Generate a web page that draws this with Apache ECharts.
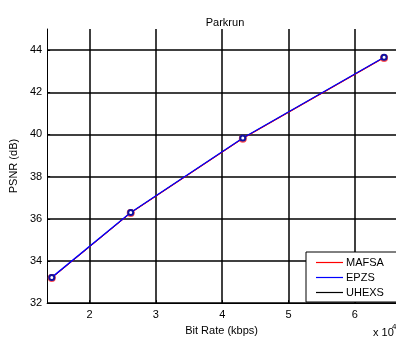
<!DOCTYPE html>
<html><head><meta charset="utf-8">
<script src="https://cdn.jsdelivr.net/npm/echarts@6/dist/echarts.min.js"></script>
<style>html,body{margin:0;padding:0;background:#fff}#c{width:396px;height:341px}</style>
</head><body><div id="c"></div>
<script>
const bitRate = [14300, 26200, 43100, 64400];
const mafsa = [33.19, 36.27, 39.80, 43.63];
const epzs = [33.22, 36.30, 39.83, 43.66];
const uhexs = [33.21, 36.29, 39.82, 43.65];
const xTicks = [20000, 30000, 40000, 50000, 60000];
const yTicks = [32, 34, 36, 38, 40, 42, 44];

const font = 'Liberation Sans, Arial, sans-serif';
const chart = echarts.init(document.getElementById('c'));
function pts(ys){ return bitRate.map((x,i)=>[x, ys[i]]); }
const lineIcon = 'path://M0,4.4 L27,4.4 L27,5.6 L0,5.6 Z';
chart.setOption({
  animation: false,
  backgroundColor: '#fff',
  title: { text: 'Parkrun', left: 220, top: 12, textAlign: 'center',
    textStyle: { fontFamily: font, fontSize: 11, fontWeight: 'normal', color: '#000' } },
  grid: { left: 46, top: 29, right: -1, bottom: 36 },
  legend: {
    orient: 'vertical', left: 306, top: 252, width: 100,
    padding: [5, 20, 4, 10], itemGap: 4,
    borderColor: '#000', borderWidth: 1, backgroundColor: '#fff',
    itemWidth: 27, itemHeight: 10,
    textStyle: { fontFamily: font, fontSize: 11, color: '#000', padding: [0,0,0,-2] },
    data: [
      { name: 'MAFSA', icon: lineIcon, itemStyle: { color: '#ff0000', borderWidth: 0 } },
      { name: 'EPZS', icon: lineIcon, itemStyle: { color: '#0000ff', borderWidth: 0 } },
      { name: 'UHEXS', icon: lineIcon, itemStyle: { color: '#000000', borderWidth: 0 } }
    ]
  },
  xAxis: {
    type: 'value', min: 13600, max: 66200,
    axisLine: { show: true, lineStyle: { color: '#000', width: 1 } },
    axisTick: { show: true, inside: true, length: 3, customValues: xTicks, lineStyle: { color: '#000' } },
    axisLabel: { customValues: xTicks, formatter: v => String(v / 10000), color: '#000',
      fontFamily: font, fontSize: 11, margin: 6 },
    splitLine: { show: true, lineStyle: { color: '#000', width: 1.5 } },
    name: 'Bit Rate (kbps)', nameLocation: 'middle', nameGap: 20,
    nameTextStyle: { fontFamily: font, fontSize: 11, color: '#000' }
  },
  yAxis: {
    type: 'value', min: 32, max: 45,
    axisLine: { show: true, lineStyle: { color: '#000', width: 1 } },
    axisTick: { show: true, inside: true, length: 3, customValues: yTicks, lineStyle: { color: '#000' } },
    axisLabel: { customValues: yTicks, color: '#000', fontFamily: font, fontSize: 11, margin: 5 },
    splitLine: { show: true, lineStyle: { color: '#000', width: 1.5 } },
    name: 'PSNR (dB)', nameLocation: 'middle', nameGap: 27, nameRotate: 90,
    nameTextStyle: { fontFamily: font, fontSize: 11, color: '#000' }
  },
  graphic: [
    { type: 'text', left: 373, top: 327, style: { text: 'x 10', fontFamily: font, fontSize: 11, fill: '#000' } },
    { type: 'text', left: 392, top: 323, style: { text: '4', fontFamily: font, fontSize: 8, fill: '#000' } }
  ],
  series: [
    { name: 'UHEXS', type: 'line', data: pts(uhexs), symbol: 'emptyCircle', symbolSize: 5,
      lineStyle: { color: '#000', width: 1 }, itemStyle: { color: '#000', borderWidth: 1 }, z: 2 },
    { name: 'MAFSA', type: 'line', data: pts(mafsa), symbol: 'emptyCircle', symbolSize: 6,
      lineStyle: { color: '#ff0000', width: 1 }, itemStyle: { color: '#ff5050', borderWidth: 1 }, z: 3 },
    { name: 'EPZS', type: 'line', data: pts(epzs), symbol: 'emptyCircle', symbolSize: 5,
      lineStyle: { color: '#0000ff', width: 1.3 }, itemStyle: { color: '#1010a0', borderWidth: 1 }, z: 4 }
  ]
});
</script></body></html>
